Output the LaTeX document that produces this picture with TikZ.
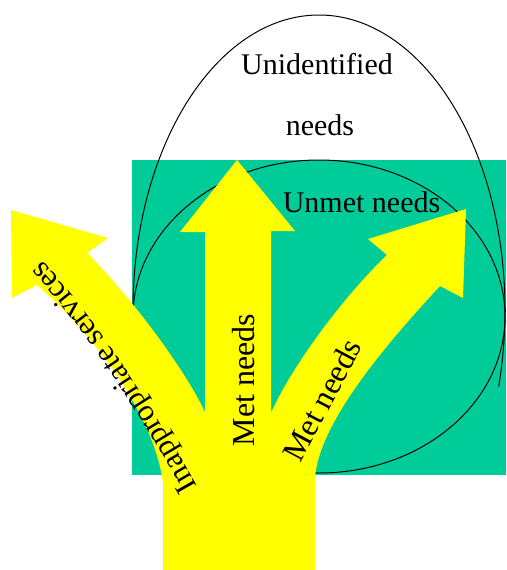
\documentclass[tikz,border=0pt]{standalone}
\usepackage{fontspec}
\setmainfont{Liberation Serif}
\usetikzlibrary{decorations.text}
\definecolor{greenbg}{RGB}{0,204,153}
\definecolor{yel}{RGB}{255,255,0}
\begin{document}
\begin{tikzpicture}[x=1pt,y=-1pt,
  lbl/.style={inner sep=0pt, font=\fontsize{30}{30}\selectfont},
  rlbl/.style={inner sep=0pt, font=\fontsize{32}{32}\selectfont},
  outline/.style={draw=black, line width=1pt}]
\useasboundingbox (0,0) rectangle (506,570);
\fill[greenbg] (132,160) rectangle (506,475);
\draw[outline] (319,316.5) ellipse[x radius=186pt, y radius=156.5pt];
\draw[outline] (133,310) arc[start angle=180, end angle=-15, x radius=186pt, y radius=295pt];
\fill[yel] (163,570) -- (163,483) .. controls (155,420) and (100,340) .. (37,285)
  -- (12,298) -- (11,210) -- (108,238) -- (87,253)
  .. controls (120,285) and (180,360) .. (205,412)
  -- (205,232) -- (180,232) -- (237,160) -- (295,231) -- (271,231) -- (271,413)
  .. controls (290,370) and (340,300) .. (387,255)
  -- (368,239) -- (466,209) -- (463,298) -- (440,286)
  .. controls (390,340) and (320,420) .. (315,477)
  -- (315,570) -- cycle;
\path[decorate, decoration={text along path, text align=center,
  text={|\fontsize{31}{31}\selectfont|Inappropriate services}}]
  (206,502) .. controls (160,420) and (100,320) .. (30,247);
\node[rlbl, rotate=90] (met1) at (244,380) {Met needs};
\node[rlbl, rotate=62] (met2) at (322,400) {Met needs};
\node[lbl, anchor=base] (unid) at (317,74) {Unidentified};
\node[lbl, anchor=base] (needs) at (320,135) {needs};
\node[lbl, anchor=base] (unmet) at (361.5,212) {Unmet needs};
\end{tikzpicture}
\end{document}
